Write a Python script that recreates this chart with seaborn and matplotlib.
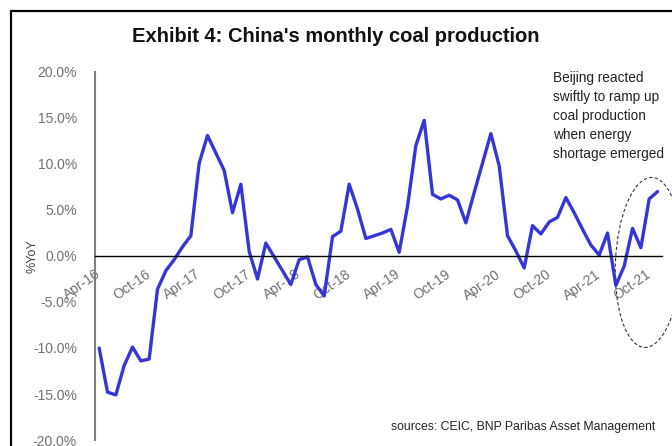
import numpy as np
import pandas as pd
import matplotlib
matplotlib.use("Agg")
import matplotlib.pyplot as plt
from matplotlib.patches import Ellipse
import seaborn as sns

# ---- data ----
months = list(pd.date_range("2016-04-01", "2021-11-01", freq="MS").strftime("%b-%y"))
yoy = [-10.0, -14.8, -15.1, -11.9, -9.9, -11.4, -11.2, -3.6, -1.6, -0.4, 1.0, 2.2,
       10.1, 13.1, 11.2, 9.3, 4.7, 7.8, 0.5, -2.5, 1.4, -0.1, -1.6, -3.1,
       -0.4, -0.1, -3.1, -4.35, 2.1, 2.7, 7.8, 5.1, 1.9, 2.2, 2.5, 2.9,
       0.4, 5.4, 12.0, 14.75, 6.7, 6.2, 6.6, 6.1, 3.6, 6.9, 10.1, 13.3,
       9.8, 2.2, 0.55, -1.3, 3.3, 2.4, 3.7, 4.2, 6.35, 4.7, 2.9, 1.2,
       0.1, 2.5, -3.2, -1.1, 3.0, 0.9, 6.2, 7.0]
tick_labels = ["Apr-16", "Oct-16", "Apr-17", "Oct-17", "Apr-18", "Oct-18",
               "Apr-19", "Oct-19", "Apr-20", "Oct-20", "Apr-21", "Oct-21"]
y_ticks = [-20, -15, -10, -5, 0, 5, 10, 15, 20]

title = "Exhibit 4: China's monthly coal production"
note = "Beijing reacted\nswiftly to ramp up\ncoal production\nwhen energy\nshortage emerged"
source = "sources: CEIC, BNP Paribas Asset Management"

df = pd.DataFrame({"idx": np.arange(len(yoy)), "month": months, "yoy": yoy})

sns.set_theme(style="white")
plt.rcParams['font.family'] = ['Liberation Sans', 'DejaVu Sans']

W, H = 672, 446
fig = plt.figure(figsize=(W / 100, H / 100), dpi=100)
ax = fig.add_axes([95 / W, 1 - 440 / H, (661.7 - 95) / W, (440 - 72) / H])

sns.lineplot(data=df, x="idx", y="yoy", ax=ax, color="#3535d8", linewidth=2.4)

# spine position first (it resets tick objects)
ax.spines["bottom"].set_position(("data", 0))
ax.spines["bottom"].set_color("black")
ax.spines["bottom"].set_linewidth(1.0)
ax.spines["left"].set_color("#808080")
ax.spines["left"].set_linewidth(1.5)
ax.spines["top"].set_visible(False)
ax.spines["right"].set_visible(False)

ax.set_xlim(-0.5, len(yoy) - 0.5)
ax.set_ylim(-20, 20)
ax.set_yticks(y_ticks)
ax.set_yticklabels([f"{v:.1f}%" for v in y_ticks], color="#707070", fontsize=10)
ax.tick_params(axis="y", length=0, pad=13)

pos = [months.index(t) - 0.5 for t in tick_labels]
ax.set_xticks(pos)
ax.tick_params(axis="x", direction="out", length=5, width=1, color="black", pad=3)
ax.set_xticklabels(tick_labels, rotation=35, ha="right", va="top", rotation_mode="anchor",
                   color="#707070", fontsize=10)

ax.set_xlabel("")
ax.set_ylabel("%YoY", fontsize=9, color="#404040")
ax.yaxis.set_label_coords((39 - 95) / (661.7 - 95), 0.5)

fig.text(336 / W, 1 - 37 / H, title, ha="center", va="center", fontsize=14.5,
         fontweight="bold", color="#111111")
fig.text(553 / W, 1 - 71 / H, note, ha="left", va="top", fontsize=9.8,
         color="#222222", linespacing=1.45)
fig.text(655 / W, 1 - 427 / H, source, ha="right", va="center", fontsize=8.8,
         color="#222222")

ell = Ellipse((65.9, -0.7), width=7.9, height=18.5, angle=-3, fill=False,
              linestyle=(0, (3, 2)), edgecolor="#333333", linewidth=0.8, clip_on=False)
ax.add_patch(ell)

frame = plt.Rectangle((11 / W, -0.1), 1.2, 1 - 11 / H + 0.1, transform=fig.transFigure,
                      fill=False, edgecolor="black", linewidth=1.6, clip_on=False)
fig.add_artist(frame)

fig.savefig("out.png", dpi=100)
